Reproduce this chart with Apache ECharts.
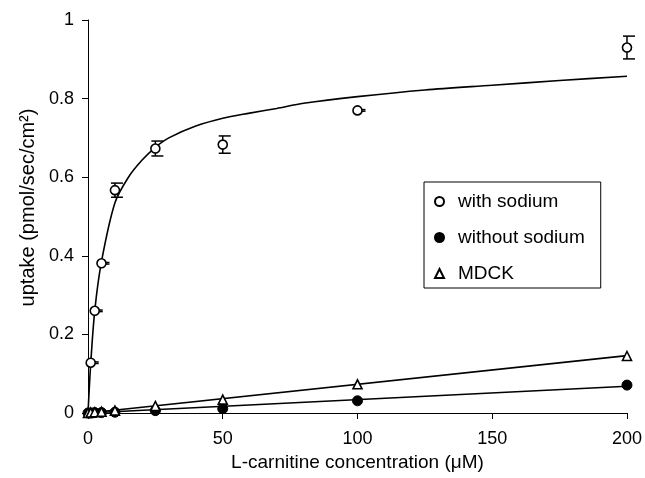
<!DOCTYPE html>
<html>
<head>
<meta charset="utf-8">
<script src="https://cdn.jsdelivr.net/npm/echarts@6/dist/echarts.min.js"></script>
<style>html,body{margin:0;padding:0;background:#fff;}#c{width:645px;height:478px;}</style>
</head>
<body>
<div id="c"></div>
<script>
// Concentrations (uM)
var conc = [1, 2.5, 5, 10, 25, 50, 100, 200];
var concLow = [0, 1, 2.5, 5, 10, 25, 50, 100, 200];
// Uptake with sodium (mean, error)
var withSodium = [0.128, 0.26, 0.381, 0.567, 0.673, 0.683, 0.77, 0.93];
var withSodiumErr = [0.002, 0.002, 0.002, 0.018, 0.019, 0.022, 0.002, 0.029];
// Uptake without sodium
var withoutSodium = [0, 0, 0.001, 0.001, 0.002, 0.006, 0.011, 0.031, 0.071];
// MDCK
var mdck = [0, 0.001, 0.002, 0.003, 0.006, 0.018, 0.034, 0.073, 0.145];
// Fitted saturable curve
var fitX = [0, 1, 2.5, 5, 10, 15, 20, 25, 30, 40, 50, 60, 70, 80, 100, 125, 150, 175, 200];
var fitY = [0, 0.125, 0.26, 0.385, 0.535, 0.6, 0.643, 0.676, 0.7, 0.73, 0.75, 0.763, 0.775, 0.788, 0.805, 0.822, 0.834, 0.846, 0.857];
// Linear fits
var linX = [0, 200];
var mdckFit = [0, 0.146];
var withoutFit = [0, 0.068];

function pairs(xs, ys){ return xs.map(function(x,i){ return [x, ys[i]]; }); }

var chart = echarts.init(document.getElementById('c'), null, {renderer:'canvas'});
var font = 'Liberation Sans, Arial, sans-serif';
var lineStyle = {color:'#000', width:1.6};

function renderErr(params, api){
  var x = api.value(0), y = api.value(1), e = api.value(2);
  var c = api.coord([x, y]);
  var hi = api.coord([x, y + e]);
  var lo = api.coord([x, y - e]);
  var st = {stroke:'#000', lineWidth:1.5};
  return {type:'group', children:[
    {type:'line', shape:{x1:c[0], y1:hi[1], x2:c[0], y2:lo[1]}, style:st},
    {type:'line', shape:{x1:c[0]-4, y1:hi[1], x2:c[0]+8, y2:hi[1]}, style:st},
    {type:'line', shape:{x1:c[0]-4, y1:lo[1], x2:c[0]+8, y2:lo[1]}, style:st}
  ]};
}

chart.setOption({
  animation:false,
  backgroundColor:'#fff',
  grid:{left:88, right:17, top:20, bottom:65},
  xAxis:{
    type:'value', min:0, max:200, interval:50,
    name:'L-carnitine concentration (μM)', nameLocation:'middle', nameGap:33,
    nameTextStyle:{fontFamily:font, fontSize:19, color:'#000'},
    axisLine:{lineStyle:{color:'#000', width:1}},
    axisTick:{show:true, length:6, lineStyle:{color:'#000'}},
    axisLabel:{fontFamily:font, fontSize:18, color:'#000', margin:17},
    splitLine:{show:false}
  },
  yAxis:{
    type:'value', min:0, max:1, interval:0.2,
    name:'uptake (pmol/sec/cm²)', nameLocation:'middle', nameGap:47,
    nameTextStyle:{fontFamily:font, fontSize:20, color:'#000', padding:[0,0,0,18]},
    axisLine:{show:true, lineStyle:{color:'#000', width:1}},
    axisTick:{show:true, length:6, lineStyle:{color:'#000'}},
    axisLabel:{fontFamily:font, fontSize:18, color:'#000', margin:14},
    splitLine:{show:false}
  },
  legend:{
    orient:'vertical', left:424, top:182,
    padding:[10, 16, 5, 10], itemGap:17,
    itemWidth:9, itemHeight:9,
    borderColor:'#000', borderWidth:1, backgroundColor:'#fff',
    textStyle:{fontFamily:font, fontSize:19, color:'#000', padding:[0,0,0,9]},
    data:['with sodium','without sodium','MDCK']
  },
  series:[
    {type:'line', data:pairs(fitX, fitY), smooth:0.3, symbol:'none', lineStyle:lineStyle, z:2, silent:true},
    {type:'line', data:pairs(linX, mdckFit), symbol:'none', lineStyle:lineStyle, z:2, silent:true},
    {type:'line', data:pairs(linX, withoutFit), symbol:'none', lineStyle:lineStyle, z:2, silent:true},
    {type:'custom', renderItem:renderErr, data:conc.map(function(x,i){return [x, withSodium[i], withSodiumErr[i]];}), z:3, silent:true},
    {name:'with sodium', type:'scatter', data:pairs(conc, withSodium), symbol:'circle', symbolSize:9,
      itemStyle:{color:'#fff', borderColor:'#000', borderWidth:1.6, opacity:1}, z:5},
    {name:'without sodium', type:'scatter', data:pairs(concLow, withoutSodium), symbol:'circle', symbolSize:10,
      itemStyle:{color:'#000', borderColor:'#000', borderWidth:1, opacity:1}, z:5},
    {name:'MDCK', type:'scatter', data:pairs(concLow, mdck), symbol:'triangle', symbolSize:9,
      itemStyle:{color:'#fff', borderColor:'#000', borderWidth:1.6, opacity:1}, z:6}
  ]
});
</script>
</body>
</html>
